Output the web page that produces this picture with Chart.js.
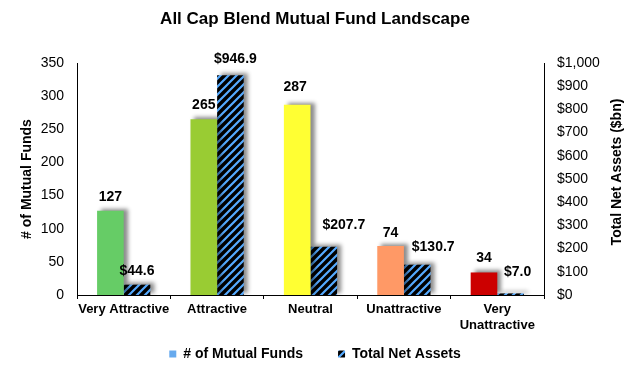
<!DOCTYPE html>
<html>
<head>
<meta charset="utf-8">
<script src="https://cdn.jsdelivr.net/npm/chart.js@4.4.0/dist/chart.umd.min.js"></script>
<style>
  html, body { margin: 0; padding: 0; background: #fff; }
  canvas { display: block; }
</style>
</head>
<body>
<canvas id="myChart" width="630" height="368"></canvas>
<script>
var categories = ['Very Attractive', 'Attractive', 'Neutral', 'Unattractive', ['Very', 'Unattractive']];
var fundCounts = [127, 265, 287, 74, 34];
var netAssets = [44.6, 946.9, 207.7, 130.7, 7.0];
var leftTicks = [0, 50, 100, 150, 200, 250, 300, 350];
var rightTicks = [0, 100, 200, 300, 400, 500, 600, 700, 800, 900, 1000];

var barColors = ['#66cc66', '#99cc33', '#ffff33', '#ff9966', '#cc0000'];
// label nudges [dx, dy] relative to the bar top, per dataset
var labelNudge = [
    [[0, -14], [0, -14], [-2, -18], [0, -13], [0, -14]],
    [[0, -14], [5, -16], [20, -22], [16, -18], [7, -21]]
];

Chart.defaults.font.family = '"Liberation Sans", Arial, sans-serif';
Chart.defaults.color = '#000';

var ctx = document.getElementById('myChart').getContext('2d');

function makeHatch(size) {
    var c = document.createElement('canvas');
    c.width = size;
    c.height = size;
    var g = c.getContext('2d');
    g.fillStyle = '#000';
    g.fillRect(0, 0, size, size);
    g.strokeStyle = '#55aaff';
    g.lineWidth = 2.2;
    g.beginPath();
    g.moveTo(-1, size + 1); g.lineTo(size + 1, -1);
    g.moveTo(-1, 1); g.lineTo(1, -1);
    g.moveTo(size - 1, size + 1); g.lineTo(size + 1, size - 1);
    g.stroke();
    return ctx.createPattern(c, 'repeat');
}
var hatch = makeHatch(8);

var barShadow = {
    id: 'barShadow',
    beforeDatasetsDraw: function(chart) {
        var c = chart.ctx;
        c.save();
        c.shadowColor = 'rgba(0, 0, 0, 0.45)';
        c.shadowBlur = 4;
        c.shadowOffsetX = 4;
        c.shadowOffsetY = -2;
    },
    afterDatasetsDraw: function(chart) {
        chart.ctx.restore();
    }
};

var barLabels = {
    id: 'barLabels',
    afterDatasetsDraw: function(chart) {
        var c = chart.ctx;
        c.save();
        c.font = 'bold 14px "Liberation Sans", Arial, sans-serif';
        c.fillStyle = '#000';
        c.textAlign = 'center';
        c.textBaseline = 'middle';
        chart.data.datasets.forEach(function(ds, i) {
            chart.getDatasetMeta(i).data.forEach(function(bar, j) {
                var v = ds.data[j];
                var txt = i === 0 ? String(v) : '$' + v.toFixed(1);
                var n = labelNudge[i][j];
                c.fillText(txt, bar.x + n[0], bar.y + n[1]);
            });
        });
        c.restore();
    }
};

var rightTitle = {
    id: 'rightTitle',
    afterDraw: function(chart) {
        var s = chart.scales.y1;
        var c = chart.ctx;
        c.save();
        c.font = 'bold 14px "Liberation Sans", Arial, sans-serif';
        c.fillStyle = '#000';
        c.textAlign = 'center';
        c.textBaseline = 'middle';
        c.translate(s.right - 12.5, (s.top + s.bottom) / 2 - 7);
        c.rotate(-Math.PI / 2);
        c.fillText(s.options.title.text, 0, 0);
        c.restore();
    }
};

// x labels hang below the thin x box, so widen its label clip area
var xLabelRoom = {
    id: 'xLabelRoom',
    afterLayout: function(chart) {
        chart.scales.x.bottom = chart.height;
    }
};

var myChart = new Chart(ctx, {
    type: 'bar',
    data: {
        labels: categories,
        datasets: [{
            label: '# of Mutual Funds',
            data: fundCounts,
            backgroundColor: barColors,
            borderWidth: 0,
            yAxisID: 'y'
        }, {
            label: 'Total Net Assets',
            data: netAssets,
            backgroundColor: hatch,
            borderWidth: 0,
            yAxisID: 'y1'
        }]
    },
    options: {
        responsive: false,
        animation: false,
        categoryPercentage: 0.57,
        barPercentage: 1.0,
        layout: { padding: { top: 0, left: 0, right: 0, bottom: -3 } },
        plugins: {
            title: {
                display: true,
                text: 'All Cap Blend Mutual Fund Landscape',
                font: { size: 17, weight: 'bold' },
                color: '#000',
                padding: { top: 9, bottom: 33.6 }
            },
            legend: {
                position: 'bottom',
                labels: {
                    boxWidth: 7,
                    boxHeight: 7,
                    padding: 35,
                    font: { size: 14, weight: 'bold' },
                    color: '#000',
                    generateLabels: function() {
                        return [
                            { text: '# of Mutual Funds', fillStyle: '#66aaee', strokeStyle: '#66aaee', lineWidth: 0, datasetIndex: 0 },
                            { text: 'Total Net Assets', fillStyle: hatch, strokeStyle: '#000', lineWidth: 0, datasetIndex: 1 }
                        ];
                    }
                }
            },
            tooltip: { enabled: false }
        },
        scales: {
            x: {
                grid: { display: true, drawOnChartArea: false, drawTicks: true, tickLength: 4, color: '#000', offset: true },
                border: { display: true, color: '#000' },
                ticks: { font: { size: 13, weight: 'bold', lineHeight: 1.25 }, color: '#000', padding: 2, maxRotation: 0, autoSkip: false },
                afterFit: function(s) { s.height = 17; }
            },
            y: {
                position: 'left',
                min: 0,
                max: 350,
                grid: { display: false, drawTicks: false },
                border: { display: true, color: '#000' },
                ticks: { font: { size: 14 }, color: '#000', padding: 13 },
                title: { display: true, text: '# of Mutual Funds', font: { size: 14, weight: 'bold' }, color: '#000', padding: { top: 19, bottom: 0 } },
                afterBuildTicks: function(s) { s.ticks = leftTicks.map(function(v) { return { value: v }; }); },
                afterFit: function(s) { s.width = 77; }
            },
            y1: {
                position: 'right',
                min: 0,
                max: 1000,
                grid: { display: false, drawTicks: false },
                border: { display: true, color: '#000' },
                ticks: {
                    font: { size: 14 },
                    color: '#000',
                    padding: 13,
                    callback: function(v) { return '$' + v.toLocaleString('en-US'); }
                },
                title: { display: false, text: 'Total Net Assets ($bn)' },
                afterBuildTicks: function(s) { s.ticks = rightTicks.map(function(v) { return { value: v }; }); },
                afterFit: function(s) { s.width = 86; }
            }
        }
    },
    plugins: [barShadow, barLabels, rightTitle, xLabelRoom]
});
</script>
</body>
</html>
